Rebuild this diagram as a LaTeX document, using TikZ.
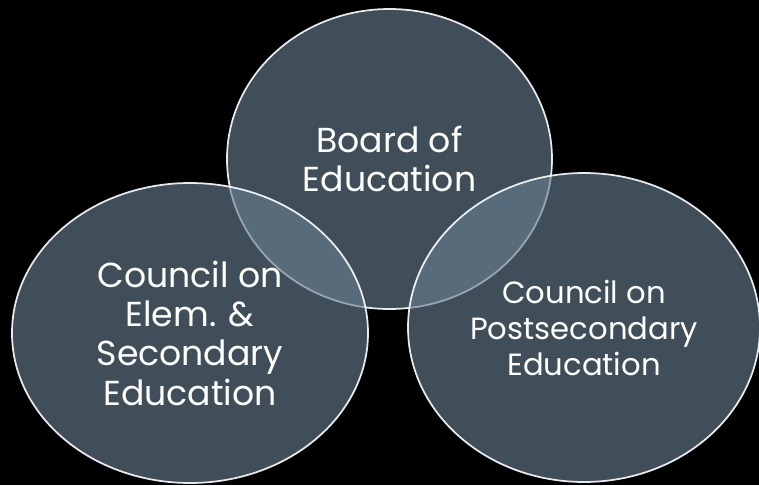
\documentclass[tikz,border=0pt]{standalone}
\usepackage{fontspec}
\setmainfont{Poppins}
\usetikzlibrary{shapes.geometric}
\definecolor{vennfill}{RGB}{103,126,145}

\begin{document}
\begin{tikzpicture}[x=0.75pt, y=-0.75pt,
    venn/.style={ellipse, inner sep=0pt, outer sep=0pt,
        fill=vennfill, fill opacity=0.62, text opacity=1,
        draw=white, draw opacity=0.9, line width=1.3pt,
        text=white, align=center,
        font=\fontsize{26}{29.5}\selectfont}]
    % Background
    \fill[black] (0,0) rectangle (759,485);
    \useasboundingbox (0,0) rectangle (759,485);

    % Top circle
    \node[venn, minimum width=243.75pt, minimum height=225pt] (board) at (389.5,159)
        {Board of\\Education};

    % Left circle
    \node[venn, minimum width=267pt, minimum height=225pt] (elemsec) at (190,333)
        {Council on\\Elem. \&\\Secondary\\Education};

    % Right circle
    \node[venn, minimum width=264pt, minimum height=231.75pt,
        font=\fontsize{23}{27}\selectfont] (postsec) at (584,327.5)
        {Council on\\Postsecondary\\Education};
\end{tikzpicture}
\end{document}
